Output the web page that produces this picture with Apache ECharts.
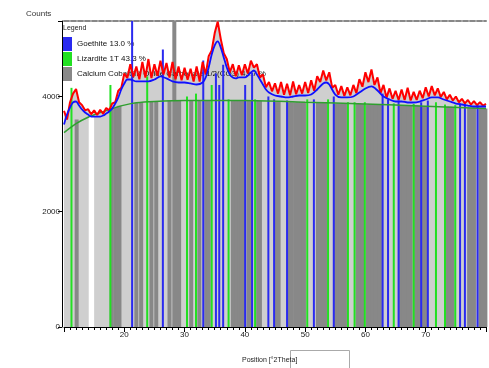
<!DOCTYPE html>
<html><head><meta charset="utf-8">
<script src="https://cdn.jsdelivr.net/npm/echarts@6/dist/echarts.min.js"></script>
<style>html,body{margin:0;padding:0;background:#fff}#c{width:489px;height:368px}</style>
</head><body><div id="c"></div>
<script>
// ---- observed pattern (counts) every 0.5 deg from 10 to 80 ----
const obsStart = 10, obsStep = 0.5;
const obsCounts = [
3750,3600,3900,4050,4130,3900,3850,3760,3780,3690,
3760,3680,3770,3700,3800,3760,3880,3900,4100,4150,
4400,4320,4560,4340,4520,4300,4600,4330,4650,4320,
4560,4360,4620,4380,4580,4330,4600,4300,4520,4280,
4500,4290,4480,4260,4520,4260,4600,4380,4700,4800,
5100,5300,5000,4750,4650,4420,4560,4350,4540,4370,
4560,4400,4620,4500,4560,4330,4380,4160,4250,4090,
4230,4050,4250,4030,4220,4020,4260,4040,4200,4050,
4250,4060,4280,4100,4350,4250,4450,4280,4420,4150,
4200,4030,4180,4010,4160,4020,4200,4060,4300,4170,
4420,4250,4470,4200,4330,4060,4200,3980,4140,3960,
4100,3940,4120,3940,4150,3930,4080,3940,4100,3970,
4160,4000,4180,4020,4140,3990,4080,3950,4030,3930,
4000,3900,3960,3880,3940,3860,3920,3850,3900,3840,
3870];
// ---- calculated profile ----
const calcAngles = [10,10.5,11,11.5,12,12.5,13,13.5,14,14.5,15,16,16.5,17,17.5,18,18.5,19,19.5,20,20.5,21,22,23,24,25,26,27,28,29,30,31,32,33,33.5,34,34.5,35,35.5,36,36.5,37,37.5,38,38.5,39,40,40.5,41,41.5,42,42.5,43,43.5,44,45,46,47,48,49,50,51,52,53,53.5,54,55,56,57,58,59,60,61,62,63,64,65,66,67,68,69,70,71,72,73,74,75,76,77,78,79,80];
const calcCounts = [3513,3687,3809,3896,3913,3843,3774,3722,3687,3652,3652,3652,3670,3704,3739,3791,3878,3982,4121,4226,4295,4295,4261,4261,4261,4295,4348,4313,4261,4243,4243,4226,4208,4243,4330,4504,4730,4887,4956,4852,4678,4504,4382,4330,4313,4330,4330,4365,4417,4452,4382,4295,4208,4121,4069,4017,4000,3983,4000,4017,4017,4034,4121,4226,4243,4208,4034,3983,3983,4000,4069,4139,4174,4104,4000,3948,3913,3913,3896,3896,3913,3948,3983,3983,3948,3913,3878,3861,3843,3826,3826,3826];
// ---- background ----
const bgAngles = [10,12,14,16,18,20,22,25,30,40,50,60,70,80];
const bgCounts = [3374,3530,3640,3720,3790,3850,3890,3913,3930,3930,3900,3870,3830,3790];
// ---- reference patterns (position deg, top counts) ----
const goethitePos = [21.3,26.4,33.1,35.2,35.75,36.4,40.05,41.2,43.9,44.85,47.0,51.45,54.75,62.85,63.75,65.5,69.25,70.35,75.7,76.5,78.6];
const goethiteTop = [5310,4817,4626,4400,4200,4550,4200,4417,4000,3950,3930,3950,4000,4050,3950,3930,3900,3930,3880,3870,3850];
const lizarditePos = [11.24,17.7,23.8,30.4,31.9,34.5,37.3,41.7,50.35,53.8,57.1,58.2,59.9,64.7,68.0,71.7,73.2,74.9];
const lizarditeTop = [4150,4200,4350,4000,4050,4200,3950,3950,3950,3950,3900,3900,3900,3880,3870,3900,3860,3850];
const calciumPos = [12.1,17.9,18.5,18.9,19.2,22.0,22.8,24.5,25.3,27.5,28.3,28.7,29.1,31.1,32.45,33.6,34.0,38.0,38.3,38.6,39.1,39.4,39.8,40.6,41.0,42.2,42.5,45.2,45.6,47.4,47.8,48.4,48.8,49.3,49.8,52.1,52.5,52.9,53.3,55.1,55.5,55.9,56.3,56.6,58.7,59.1,59.5,60.4,60.8,61.2,61.6,62.0,62.4,65.9,66.3,66.7,67.1,67.5,68.4,68.9,69.7,70.1,73.6,74.0,74.4,77.2,77.6,78.0,79.1,79.5,79.9];
const calciumTop = [3600,3800,3800,3820,3840,3890,3900,3910,3920,3930,5310,3930,3930,3930,3930,3930,3930,3930,3930,3930,3930,3930,3930,3930,3930,3920,3920,3910,3910,3900,3900,3900,3900,3900,3900,3890,3890,3890,3890,3880,3880,3880,3880,3880,3870,3870,3870,3860,3860,3860,3860,3860,3860,3850,3850,3850,3850,3850,3840,3840,3830,3830,3820,3820,3820,3800,3800,3800,3790,3790,3790];
const gapRange = [14.1, 15.0];
const gapTop = 3700;
const yTicks = [0, 2000, 4000];
const xTickLabels = [20, 30, 40, 50, 60, 70];

const names = ['Goethite 13.0 %', 'Lizardite 1T 43.3 %', 'Calcium Cobalt(II) Oxide Carbonate 1/2(CO3) 43.7 %'];
const obsData = obsCounts.map((v, i) => [obsStart + i * obsStep, v]);
const calcData = calcAngles.map((a, i) => [a, calcCounts[i]]);
const bgData = bgAngles.map((a, i) => [a, bgCounts[i]]);

function stickSeries(name, pos, top, color, width, z) {
  return {
    type: 'custom', name, z,
    itemStyle: { color },
    data: pos.map((p, i) => [p, top[i]]),
    encode: { x: 0, y: 1 },
    renderItem: (params, api) => {
      const a = api.coord([api.value(0), 0]);
      const b = api.coord([api.value(0), api.value(1)]);
      return { type: 'line', shape: { x1: a[0], y1: a[1], x2: b[0], y2: b[1] },
        style: { stroke: color, lineWidth: width } };
    }
  };
}

const chart = echarts.init(document.getElementById('c'), null, { renderer: 'canvas' });
const font = 'Liberation Sans';
chart.setOption({
  animation: false,
  title: [
    { text: 'Counts', left: 21, top: 5, textStyle: { fontSize: 8, fontWeight: 'normal', color: '#333', fontFamily: font } },
    { text: 'Legend', left: 63, top: 25, padding: 0, textStyle: { fontSize: 7, fontWeight: 'normal', color: '#222', fontFamily: font } },
    { text: 'Position [°2Theta]', left: 237, top: 352, textStyle: { fontSize: 7, fontWeight: 'normal', color: '#222', fontFamily: font } }
  ],
  graphic: [{ type: 'rect', left: 290, top: 350, shape: { width: 59, height: 20 }, style: { fill: '#fff', stroke: '#aaa', lineWidth: 1 } }],
  legend: {
    data: names, orient: 'vertical', left: 63, top: 37, padding: 0, itemWidth: 9, itemHeight: 14, itemGap: 1,
    icon: 'rect', selectedMode: false,
    textStyle: { fontSize: 8, color: '#111', fontFamily: font }
  },
  grid: { left: 64, right: 0, top: 21, bottom: 41 },
  xAxis: [{
    type: 'value', min: 10, max: 80, interval: 10,
    axisLine: { show: true, lineStyle: { color: '#000', width: 1 } },
    axisTick: { show: true, length: 5, lineStyle: { color: '#000' } },
    minorTick: { show: true, splitNumber: 10, length: 3, lineStyle: { color: '#000' } },
    splitLine: { show: false },
    axisLabel: { fontSize: 8, color: '#222', fontFamily: font, margin: 4,
      formatter: v => xTickLabels.includes(v) ? String(v) : '' }
  }, {
    type: 'value', position: 'top', min: 10, max: 80,
    axisLine: { show: true, lineStyle: { color: '#888', width: 2, type: [5, 2] } },
    axisTick: { show: false }, axisLabel: { show: false }, splitLine: { show: false }
  }],
  yAxis: {
    type: 'value', min: 0, max: 5310, interval: 2000, offset: 2,
    axisLine: { show: true, lineStyle: { color: '#000', width: 1 } },
    axisTick: { show: true, length: 4, lineStyle: { color: '#000' } },
    splitLine: { show: false },
    axisLabel: { fontSize: 8, color: '#222', fontFamily: font, margin: 2,
      formatter: v => yTicks.includes(v) ? String(v) : '' }
  },
  series: [
    { type: 'line', name: 'area', data: obsData, showSymbol: false, z: 1,
      lineStyle: { width: 0 }, areaStyle: { color: '#cfcfcf', opacity: 1 } },
    { type: 'custom', name: 'gap', z: 1.5, data: [[gapRange[0], gapRange[1], gapTop]],
      renderItem: (params, api) => {
        const a = api.coord([api.value(0), api.value(2)]);
        const b = api.coord([api.value(1), 0]);
        return { type: 'rect', shape: { x: a[0], y: a[1], width: b[0] - a[0], height: b[1] - a[1] },
          style: { fill: '#ffffff' } };
      } },
    stickSeries(names[2], calciumPos, calciumTop, '#888888', 4, 2),
    stickSeries(names[1], lizarditePos, lizarditeTop, '#22e022', 2, 3),
    stickSeries(names[0], goethitePos, goethiteTop, '#2a2af0', 2, 4),
    { type: 'line', name: 'bg', data: bgData, showSymbol: false, z: 5, smooth: 0.3,
      lineStyle: { color: '#2f9f2f', width: 1.5 } },
    { type: 'line', name: 'obs', data: obsData, showSymbol: false, z: 6,
      lineStyle: { color: '#ff0000', width: 2 } },
    { type: 'line', name: 'calc', data: calcData, showSymbol: false, z: 7, smooth: 0.3,
      lineStyle: { color: '#1010ff', width: 1.8 } }
  ]
});
</script></body></html>
